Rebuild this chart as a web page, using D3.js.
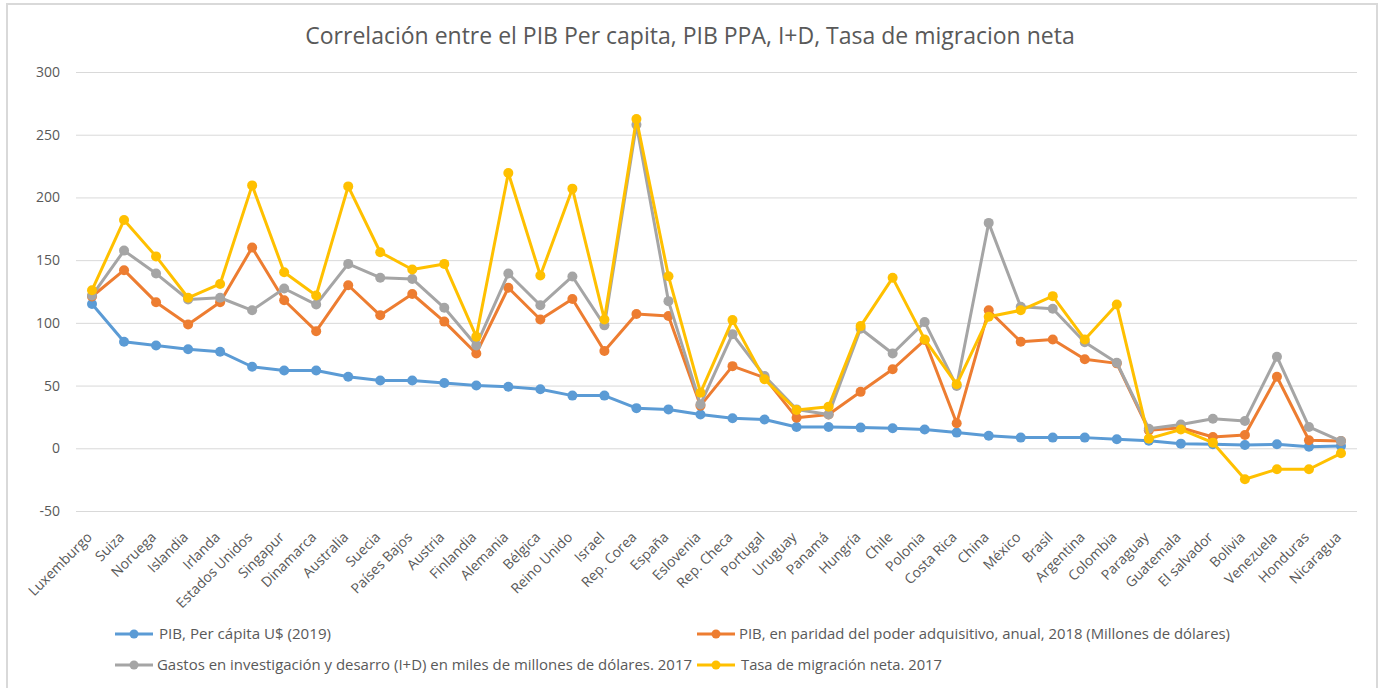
<!DOCTYPE html>
<html>
<head>
<meta charset="utf-8">
<script src="https://cdn.jsdelivr.net/npm/d3@7"></script>
<style>
  body { margin: 0; background: #fff; }
  text { font-family: "Open Sans", "Noto Sans", sans-serif; fill: #595959; }
</style>
</head>
<body>
<div id="chart"></div>
<script>
// countries on the x axis
var paises = ["Luxemburgo", "Suiza", "Noruega", "Islandia", "Irlanda", "Estados Unidos", "Singapur",
  "Dinamarca", "Australia", "Suecia", "Países Bajos", "Austria", "Finlandia", "Alemania", "Bélgica",
  "Reino Unido", "Israel", "Rep. Corea", "España", "Eslovenia", "Rep. Checa", "Portugal", "Uruguay",
  "Panamá", "Hungría", "Chile", "Polonia", "Costa Rica", "China", "México", "Brasil", "Argentina",
  "Colombia", "Paraguay", "Guatemala", "El salvador", "Bolivia", "Venezuela", "Honduras", "Nicaragua"];

var pibPerCapita = [115, 85, 82, 79, 77, 65, 62, 62, 57, 54, 54, 52, 50, 49, 47, 42, 42, 32, 31, 27,
  24, 23, 17, 17, 16.5, 16, 15, 12.5, 10, 8.5, 8.5, 8.5, 7.2, 6, 3.7, 3.2, 2.6, 3.2, 1.2, 1.8];

var pibPPA = [121, 142, 116.5, 98.7, 116.5, 160, 118, 93.4, 130, 106, 123, 101, 75.6, 128, 102.7,
  119, 77.5, 107, 105.4, 34, 65.5, 56.3, 24.4, 27, 45, 63, 86.3, 20, 110, 85, 86.8, 71, 67.7,
  14.3, 16.4, 9, 10.6, 57, 6.4, 5.8];

var gastosID = [121.8, 157.6, 139.3, 118.6, 120, 110, 127.4, 114.6, 147, 136, 135, 112, 82, 139.3,
  114, 137, 98, 258, 117.3, 35, 91, 57.6, 31, 27, 95.3, 75.6, 100.6, 49.6, 179.7, 112.8, 111.2,
  84.6, 68.2, 15.6, 19, 23.6, 21.8, 73, 17, 5.8];

var migracion = [126, 182, 153, 120, 131, 209.6, 140.4, 121.8, 208.8, 156.3, 142.5, 147, 89, 219.5,
  137.7, 207, 102.7, 262.5, 137.2, 44.3, 102.2, 55, 30.5, 33.2, 97.4, 135.9, 86.8, 51, 104.8, 110,
  121.3, 86.8, 114.6, 7.7, 15, 4.5, -24.7, -16.7, -16.7, -4];

var yTicks = [-50, 0, 50, 100, 150, 200, 250, 300];

var series = [
  { nombre: "PIB, Per cápita U$ (2019)", valores: pibPerCapita, color: "#5B9BD5" },
  { nombre: "PIB, en paridad del poder adquisitivo, anual, 2018 (Millones de dólares)", valores: pibPPA, color: "#ED7D31" },
  { nombre: "Gastos en investigación y desarro (I+D) en miles de millones de  dólares. 2017", valores: gastosID, color: "#A5A5A5" },
  { nombre: "Tasa de migración neta. 2017", valores: migracion, color: "#FFC000" }
];

var W = 1383, H = 688;
var margin = {left: 76, right: 26, top: 72, bottom: 177};

var svg = d3.select("#chart").append("svg")
    .attr("width", W)
    .attr("height", H);

// outer frame
svg.append("rect")
    .attr("x", 7).attr("y", 4)
    .attr("width", 1370).attr("height", 690)
    .attr("fill", "none")
    .attr("stroke", "#d9d9d9")
    .attr("stroke-width", 2);

svg.append("text")
    .attr("x", 690).attr("y", 44)
    .attr("text-anchor", "middle")
    .style("font-size", "23px")
    .text("Correlación entre el PIB Per capita, PIB PPA, I+D, Tasa de migracion neta");

var x = d3.scaleBand()
    .domain(paises)
    .range([margin.left, W - margin.right]);

var y = d3.scaleLinear()
    .domain([-50, 300])
    .range([511, margin.top]);

// gridlines + y labels (plain hyphen for negatives, like the original)
var yAxis = svg.append("g")
    .attr("transform", "translate(" + margin.left + ",0)")
    .call(d3.axisLeft(y).tickValues(yTicks)
      .tickFormat(function(d) { return String(d); })
      .tickSize(-(W - margin.right - margin.left)).tickPadding(16));
yAxis.select(".domain").remove();
yAxis.selectAll(".tick line").attr("stroke", "#d9d9d9").attr("stroke-width", 1);
yAxis.selectAll(".tick text")
    .attr("fill", "#595959")
    .style("font-size", "14px")
    .style("font-family", "'Open Sans', sans-serif");

// category labels, rotated, below the lowest gridline
var xAxis = svg.append("g")
    .attr("transform", "translate(0," + y(-50) + ")")
    .call(d3.axisBottom(x).tickSize(0).tickPadding(0));
xAxis.select(".domain").remove();
xAxis.selectAll(".tick text")
    .attr("fill", "#595959")
    .style("font-size", "14px")
    .style("font-family", "'Open Sans', sans-serif")
    .attr("text-anchor", "end")
    .attr("dy", 0)
    .attr("transform", "translate(1,27) rotate(-45)");

var line = d3.line()
    .x(function(d, i) { return x(paises[i]) + x.bandwidth() / 2; })
    .y(function(d) { return y(d); });

series.forEach(function(s) {
  var g = svg.append("g");
  g.append("path")
      .datum(s.valores)
      .attr("d", line)
      .attr("fill", "none")
      .attr("stroke", s.color)
      .attr("stroke-width", 3)
      .attr("stroke-linejoin", "round");
  g.selectAll("circle")
      .data(s.valores)
      .enter().append("circle")
      .attr("cx", function(d, i) { return x(paises[i]) + x.bandwidth() / 2; })
      .attr("cy", function(d) { return y(d); })
      .attr("r", 5)
      .attr("fill", s.color);
});

// legend
var legPos = [[115, 634, 159, 172], [697, 634, 739, 491], [115, 665, 157, 535], [697, 665, 741, 201]];
series.forEach(function(s, i) {
  var p = legPos[i];
  var g = svg.append("g");
  g.append("line")
      .attr("x1", p[0]).attr("x2", p[0] + 38)
      .attr("y1", p[1]).attr("y2", p[1])
      .attr("stroke", s.color).attr("stroke-width", 3);
  g.append("circle")
      .attr("cx", p[0] + 19).attr("cy", p[1]).attr("r", 4.5)
      .attr("fill", s.color);
  g.append("text")
      .attr("x", p[2]).attr("y", p[1] + 5)
      .style("font-size", "14px")
      .attr("textLength", p[3])
      .attr("lengthAdjust", "spacingAndGlyphs")
      .text(s.nombre);
});
</script>
</body>
</html>
